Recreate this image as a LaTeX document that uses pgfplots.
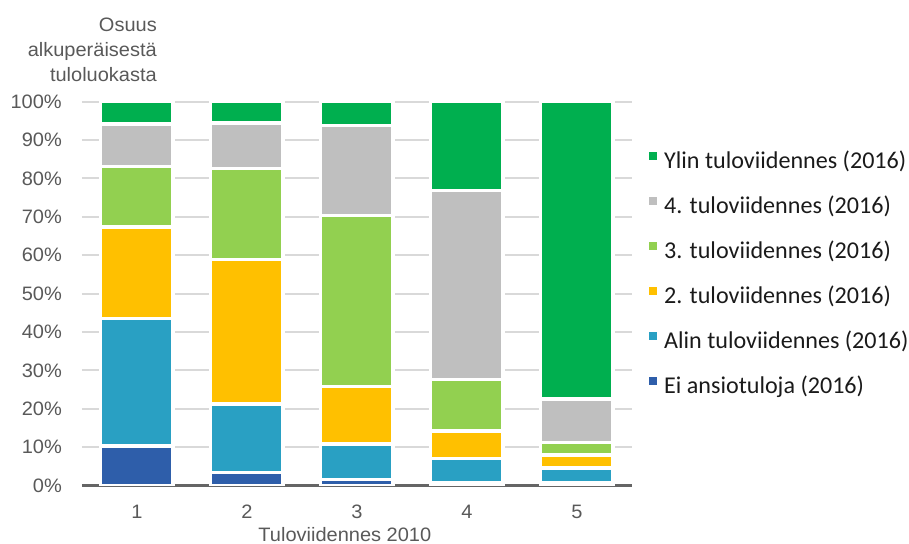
\documentclass[border=0pt]{standalone}
\usepackage{pgfplots}
\pgfplotsset{compat=1.18}
\usepackage{fontspec}
\setmainfont{Liberation Sans}[FakeStretch=1.03]
\newfontfamily\carlito{Carlito}
\definecolor{cEi}{HTML}{2E5EAA}
\definecolor{cAlin}{HTML}{29A0C3}
\definecolor{cKaksi}{HTML}{FFC000}
\definecolor{cKolme}{HTML}{92D050}
\definecolor{cNelja}{HTML}{BFBFBF}
\definecolor{cYlin}{HTML}{00AF4F}
\definecolor{gridgray}{HTML}{D9D9D9}
\definecolor{axisgray}{HTML}{656565}
\definecolor{labelgray}{HTML}{595959}
\definecolor{legendblack}{HTML}{1A1A1A}
\begin{document}
\begin{tikzpicture}
\begin{axis}[
  at={(0,0)}, anchor=south west,
  scale only axis, width=550bp, height=384bp,
  xmin=0.5, xmax=5.5, ymin=0, ymax=100,
  ybar stacked, bar width=72.5bp,
  xtick={1,2,3,4,5}, xticklabels={1,2,3,4,5},
  ytick={0,10,...,100},
  yticklabels={0\%,10\%,20\%,30\%,40\%,50\%,60\%,70\%,80\%,90\%,100\%},
  major tick length=0pt,
  ymajorgrids, grid style={color=gridgray, line width=2bp},
  axis x line*=bottom, axis y line*=left,
  x axis line style={-, color=axisgray, line width=3bp},
  y axis line style={draw=none},
  tick label style={font=\fontsize{19.5}{22}\selectfont, text=labelgray},
  yticklabel style={anchor=east, inner sep=0pt, xshift=-20bp},
  xticklabel style={anchor=base, inner sep=0pt, yshift=-32.3bp},
  xlabel={Tuloviidennes 2010},
  xlabel style={at={(axis description cs:0.478,0)}, anchor=base, inner sep=0pt, yshift=-55.3bp, font=\fontsize{19.5}{22}\selectfont, text=labelgray},
  legend style={draw=none, fill=none, inner sep=0pt,
    at={(1.0309,0.8708)}, anchor=north west,
    font=\carlito\fontsize{24.2}{28}\selectfont, text=legendblack,
    row sep=22bp, column sep=7bp,
    nodes={inner sep=0pt, text height=17bp, text depth=6bp}},
  legend cell align=left, reverse legend,
  legend image code/.code={\fill[#1, draw=none] (0bp,2.6bp) rectangle (8bp,10.6bp);},
]
\addplot[fill=cEi, draw=white, line width=3.5bp] coordinates {(1,10.4) (2,3.5) (3,1.6) (4,0.8) (5,0.8)};
\addplot[fill=cAlin, draw=white, line width=3.5bp] coordinates {(1,33.1) (2,17.8) (3,9.3) (4,6.3) (5,3.8)};
\addplot[fill=cKaksi, draw=white, line width=3.5bp] coordinates {(1,23.9) (2,37.6) (3,14.9) (4,7.1) (5,3.4)};
\addplot[fill=cKolme, draw=white, line width=3.5bp] coordinates {(1,15.7) (2,23.7) (3,44.5) (4,13.5) (5,3.3)};
\addplot[fill=cNelja, draw=white, line width=3.5bp] coordinates {(1,11.1) (2,11.9) (3,23.45) (4,49.2) (5,11.3)};
\addplot[fill=cYlin, draw=white, line width=3.5bp] coordinates {(1,5.8) (2,5.5) (3,6.25) (4,23.1) (5,77.4)};
\legend{Ei ansiotuloja (2016),Alin tuloviidennes (2016),2. tuloviidennes (2016),3. tuloviidennes (2016),4. tuloviidennes (2016),Ylin tuloviidennes (2016)}
\end{axis}
\begin{scope}[every node/.style={anchor=base east, inner sep=0pt, font=\fontsize{19.5}{22}\selectfont, text=labelgray}]
\node at (75bp,454bp) {Osuus};
\node at (75bp,429bp) {alkuperäisestä};
\node at (75bp,404bp) {tuloluokasta};
\end{scope}
\pgfresetboundingbox
\path (-82bp,-58.3bp) rectangle (827bp,485.7bp);
\end{tikzpicture}
\end{document}
